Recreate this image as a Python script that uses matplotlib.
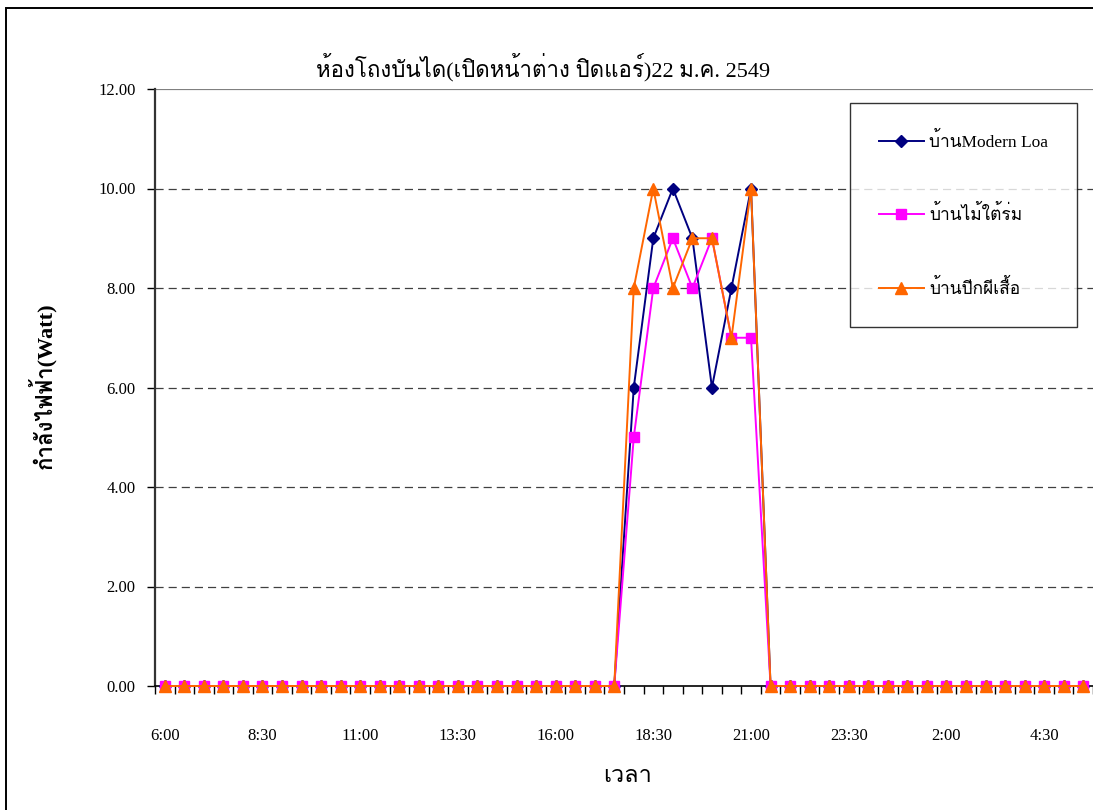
import matplotlib
matplotlib.use("Agg")
import matplotlib.pyplot as plt
from matplotlib import font_manager
from matplotlib.ft2font import FT2Font
from matplotlib.patches import Rectangle

# ---- find fonts that cover Thai ----
thai_fams = []
for f in font_manager.fontManager.ttflist:
    try:
        ft = FT2Font(f.fname)
        if ft.get_char_index(0x0E01) and f.name not in thai_fams:
            thai_fams.append(f.name)
    except Exception:
        pass
FAMS = ['Liberation Serif'] + thai_fams + ['DejaVu Sans']
plt.rcParams['font.family'] = FAMS

# ---- data ----
times = []
for i in range(48):
    m = 6 * 60 + 30 * i
    h = (m // 60) % 24
    times.append(f"{h}:{m % 60:02d}")

modern = [0]*24 + [6, 9, 10, 9, 6, 8, 10] + [0]*17
maitairom = [0]*24 + [5, 8, 9, 8, 9, 7, 7] + [0]*17
peekpeesua = [0]*24 + [8, 10, 8, 9, 9, 7, 10] + [0]*17

series_names = ['บ้านModern Loa', 'บ้านไม้ใต้ร่ม', 'บ้านปีกผีเสื้อ']
title = 'ห้องโถงบันได(เปิดหน้าต่าง ปิดแอร์)22 ม.ค. 2549'
xlabel = 'เวลา'
ylabel = 'กำลังไฟฟ้า(Watt)'

W, H = 1093, 810
fig = plt.figure(figsize=(W/100, H/100), dpi=100)
fig.patch.set_facecolor('white')

# outer chart frame
fig.patches.append(Rectangle((6/W, -0.05), 1.2, (H - 8)/H + 0.05, transform=fig.transFigure,
                             fill=False, edgecolor='black', linewidth=1.4))

ax = fig.add_axes([155/W, 124/H, (1093-155)/W, (686-89)/H])
x = list(range(len(times)))

ax.plot(x, modern, color='#000080', marker='D', markersize=6.5, linewidth=1.4,
        label=series_names[0], zorder=3, clip_on=False)
ax.plot(x, maitairom, color='#FF00FF', marker='s', markersize=6.8, linewidth=1.4,
        label=series_names[1], zorder=4, clip_on=False)
ax.plot(x, peekpeesua, color='#FF6600', marker='^', markersize=8.5, linewidth=1.4,
        label=series_names[2], zorder=5, clip_on=False)

ax.set_xlim(-0.5, len(times) - 0.5)
ax.set_ylim(0, 12)

# y axis
yt = [0, 2, 4, 6, 8, 10, 12]
ax.set_yticks(yt)
ax.set_yticklabels([f"{v:.2f}" for v in yt], fontsize=12)
for v in yt[1:-1]:
    ax.axhline(v, color='#404040', linestyle=(0, (6.5, 4)), linewidth=0.9, zorder=1)
ax.axhline(12, color='#808080', linewidth=1.6, zorder=1)

# x axis: ticks at boundaries, labels at every 5th category centre
ax.set_xticks([i - 0.5 for i in range(len(times) + 1)])
ax.set_xticklabels([])
ax.set_xticks(x[::5], minor=True)
ax.set_xticklabels(times[::5], minor=True, fontsize=12)
ax.tick_params(axis='x', which='major', direction='out', length=6, width=1, color='black')
ax.tick_params(axis='x', which='minor', length=0, pad=30)
ax.tick_params(axis='y', direction='out', length=6, width=1, color='black', pad=8)

for s in ['top', 'right']:
    ax.spines[s].set_visible(False)
ax.spines['left'].set_color('#333333')
ax.spines['left'].set_linewidth(1.6)
ax.spines['bottom'].set_color('black')
ax.spines['bottom'].set_linewidth(1.2)

fig.text(543/W, 1 - 67/H, title, ha='center', va='center', fontsize=16)
fig.text(628/W, 1 - 777/H, xlabel, ha='center', va='center', fontsize=17)
fig.text(42/W, 1 - 386/H, ylabel, ha='center', va='center', fontsize=16,
         fontweight='bold', rotation=90)

leg = ax.legend(loc='upper left', bbox_to_anchor=((850-155)/(1093-155), (686-103)/(686-89)),
                frameon=True, fancybox=False, edgecolor='black', fontsize=12.5,
                labelspacing=3.15, borderpad=1.65, handlelength=2.6, handletextpad=0.3,
                borderaxespad=0)
leg.get_frame().set_linewidth(1.0)

fig.savefig('out.png', dpi=100, facecolor='white')
